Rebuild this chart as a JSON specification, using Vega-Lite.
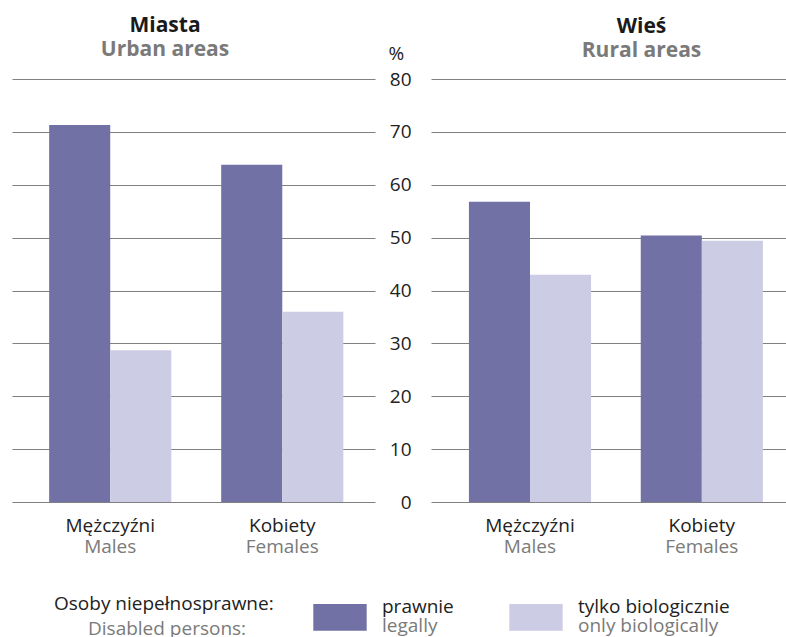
{
  "$schema": "https://vega.github.io/schema/vega-lite/v6.json",
  "padding": {"left": 12, "top": 15, "right": 0, "bottom": 0},
  "background": "white",
  "bounds": "flush",
  "spacing": 56,
  "config": {
    "font": "Open Sans",
    "view": {"stroke": null},
    "axis": {
      "labelFont": "Open Sans",
      "labelFontSize": 19,
      "labelColor": "#222222",
      "domain": false,
      "ticks": false,
      "tickSize": 0,
      "gridColor": "#808080",
      "gridWidth": 1,
      "gridOpacity": 1
    },
    "title": {
      "font": "Open Sans",
      "fontSize": 21,
      "fontWeight": "bold",
      "color": "#1a1a1a",
      "subtitleFont": "Open Sans",
      "subtitleFontSize": 21,
      "subtitleFontWeight": "bold",
      "subtitleColor": "#7a7a7a",
      "subtitlePadding": 0,
      "offset": 19,
      "anchor": "middle",
      "frame": "group"
    }
  },
  "data": {
    "values": [
      {"area": "Miasta", "cat": "Mężczyźni", "cat_en": "Males", "type": "prawnie", "type_en": "legally", "value": 71.3},
      {"area": "Miasta", "cat": "Mężczyźni", "cat_en": "Males", "type": "tylko biologicznie", "type_en": "only biologically", "value": 28.7},
      {"area": "Miasta", "cat": "Kobiety", "cat_en": "Females", "type": "prawnie", "type_en": "legally", "value": 63.8},
      {"area": "Miasta", "cat": "Kobiety", "cat_en": "Females", "type": "tylko biologicznie", "type_en": "only biologically", "value": 36.0},
      {"area": "Wieś", "cat": "Mężczyźni", "cat_en": "Males", "type": "prawnie", "type_en": "legally", "value": 56.8},
      {"area": "Wieś", "cat": "Mężczyźni", "cat_en": "Males", "type": "tylko biologicznie", "type_en": "only biologically", "value": 43.0},
      {"area": "Wieś", "cat": "Kobiety", "cat_en": "Females", "type": "prawnie", "type_en": "legally", "value": 50.4},
      {"area": "Wieś", "cat": "Kobiety", "cat_en": "Females", "type": "tylko biologicznie", "type_en": "only biologically", "value": 49.4}
    ]
  },
  "hconcat": [
    {
      "width": 363,
      "height": 423,
      "title": {"text": "Miasta", "subtitle": "Urban areas", "dx": -28.5},
      "transform": [{"filter": "datum.area === 'Miasta'"}],
      "layer": [
        {
          "mark": {"type": "bar"},
          "encoding": {
            "x": {"field": "cat", "type": "nominal", "sort": ["Mężczyźni", "Kobiety"],
              "scale": {"paddingInner": 0.29, "paddingOuter": 0.2, "align": 0.54},
              "axis": {"title": null, "labelAngle": 0, "labelPadding": 14, "grid": false}},
            "xOffset": {"field": "type", "type": "nominal", "sort": ["prawnie", "tylko biologicznie"],
              "scale": {"paddingInner": 0, "paddingOuter": 0}},
            "y": {"field": "value", "type": "quantitative",
              "scale": {"domain": [0, 80], "nice": false},
              "axis": {"title": null, "labels": false, "grid": true, "values": [0, 10, 20, 30, 40, 50, 60, 70, 80]}},
            "color": {"field": "type", "type": "nominal",
              "scale": {"domain": ["prawnie", "tylko biologicznie"], "range": ["#7171A6", "#CCCCE4"]},
              "legend": {
                "orient": "none", "legendX": 42, "legendY": 511, "direction": "horizontal", "padding": 0,
                "title": "Osoby niepełnosprawne:", "titleOrient": "left", "titleFont": "Open Sans", "titleFontSize": 19,
                "titleFontWeight": "normal", "titleColor": "#222222", "titlePadding": 39,
                "titleBaseline": "line-bottom", "titleLineHeight": 12, "titleLimit": 500,
                "symbolType": "M-1,-0.5H1V0.5H-1Z", "symbolSize": 2850, "symbolStrokeWidth": 0, "symbolOpacity": 1,
                "labelFont": "Open Sans", "labelFontSize": 19, "labelColor": "#222222", "labelOffset": 15,
                "labelBaseline": "bottom", "columnPadding": 55, "labelLimit": 400
              }},
            "strokeDash": {"field": "type_en", "type": "nominal",
              "scale": {"domain": ["legally", "only biologically"], "range": [[1, 0], [1, 0]]},
              "legend": {
                "orient": "none", "legendX": 76, "legendY": 511, "direction": "horizontal", "padding": 0,
                "title": "Disabled persons:", "titleOrient": "left", "titleFont": "Open Sans", "titleFontSize": 19,
                "titleFontWeight": "normal", "titleColor": "#7a7a7a", "titlePadding": 66,
                "titleBaseline": "line-top", "titleLineHeight": 32, "titleLimit": 500,
                "symbolType": "M-1,-0.5H1V0.5H-1Z", "symbolSize": 2850, "symbolStrokeWidth": 0, "symbolOpacity": 0,
                "labelFont": "Open Sans", "labelFontSize": 19, "labelColor": "#7a7a7a", "labelOffset": 15,
                "labelBaseline": "top", "columnPadding": 71, "labelLimit": 400
              }}
          }
        },
        {
          "transform": [{"filter": "datum.type === 'prawnie'"}],
          "mark": {"type": "text", "baseline": "alphabetic", "dy": 51, "fontSize": 19, "font": "Open Sans", "color": "#7a7a7a"},
          "encoding": {
            "x": {"field": "cat", "type": "nominal", "sort": ["Mężczyźni", "Kobiety"],
              "axis": {"title": null, "labelAngle": 0, "labelPadding": 14, "grid": false}},
            "y": {"datum": 0, "type": "quantitative",
              "axis": {"title": null, "labels": false, "grid": true, "values": [0, 10, 20, 30, 40, 50, 60, 70, 80]}},
            "text": {"field": "cat_en"}
          }
        }
      ]
    },
    {
      "width": 355,
      "height": 423,
      "title": {"text": "Wieś", "subtitle": "Rural areas", "dx": 33, "dy": 35},
      "transform": [{"filter": "datum.area === 'Wieś'"}],
      "layer": [
        {
          "mark": {"type": "bar"},
          "encoding": {
            "x": {"field": "cat", "type": "nominal", "sort": ["Mężczyźni", "Kobiety"],
              "scale": {"paddingInner": 0.29, "paddingOuter": 0.178, "align": 0.62},
              "axis": {"title": null, "labelAngle": 0, "labelPadding": 14, "grid": false}},
            "xOffset": {"field": "type", "type": "nominal", "sort": ["prawnie", "tylko biologicznie"],
              "scale": {"paddingInner": 0, "paddingOuter": 0}},
            "y": {"field": "value", "type": "quantitative",
              "scale": {"domain": [0, 80], "nice": false},
              "axis": {"title": "%", "titleAngle": 0, "titleX": -43, "titleY": -19.5, "titleAlign": "left",
                "titleBaseline": "alphabetic", "titleFont": "Open Sans", "titleFontSize": 19, "titleFontWeight": "normal",
                "titleColor": "#222222", "labelPadding": 20, "grid": true, "values": [0, 10, 20, 30, 40, 50, 60, 70, 80]}},
            "color": {"field": "type", "type": "nominal",
              "scale": {"domain": ["prawnie", "tylko biologicznie"], "range": ["#7171A6", "#CCCCE4"]}},
            "strokeDash": {"field": "type_en", "type": "nominal",
              "scale": {"domain": ["legally", "only biologically"], "range": [[1, 0], [1, 0]]}}
          }
        },
        {
          "transform": [{"filter": "datum.type === 'prawnie'"}],
          "mark": {"type": "text", "baseline": "alphabetic", "dy": 51, "fontSize": 19, "font": "Open Sans", "color": "#7a7a7a"},
          "encoding": {
            "x": {"field": "cat", "type": "nominal", "sort": ["Mężczyźni", "Kobiety"],
              "axis": {"title": null, "labelAngle": 0, "labelPadding": 14, "grid": false}},
            "y": {"datum": 0, "type": "quantitative",
              "axis": {"title": "%", "titleAngle": 0, "titleX": -43, "titleY": -19.5, "titleAlign": "left",
                "titleBaseline": "alphabetic", "titleFont": "Open Sans", "titleFontSize": 19, "titleFontWeight": "normal",
                "titleColor": "#222222", "labelPadding": 20, "grid": true, "values": [0, 10, 20, 30, 40, 50, 60, 70, 80]}},
            "text": {"field": "cat_en"}
          }
        }
      ]
    }
  ]
}
